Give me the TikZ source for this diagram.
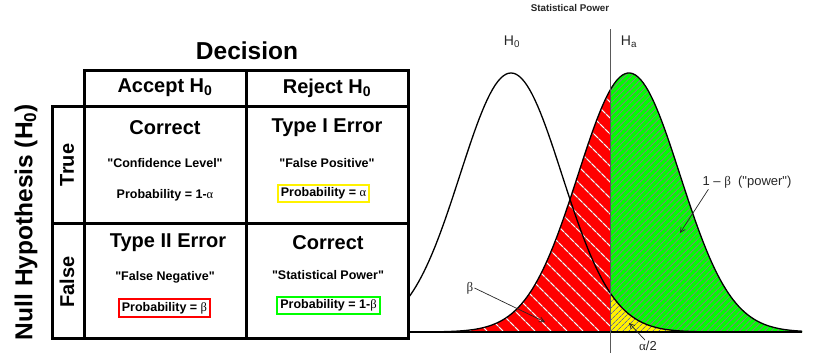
\documentclass[tikz,border=0pt]{standalone}
\usepackage{fontspec}
\setmainfont{Liberation Sans}[Ligatures=TeXOff]
\newfontfamily\grk{Liberation Serif}
\usetikzlibrary{arrows.meta, patterns.meta}

\newcommand{\galpha}{{\grk\mdseries α}}
\newcommand{\gbeta}{{\grk\mdseries β}}

\tikzset{
  tableline/.style={line width=3pt, line join=miter},
  bigtitle/.style={font=\fontsize{24.5}{28}\selectfont\bfseries},
  headtext/.style={font=\fontsize{20}{24}\selectfont\bfseries},
  celltext/.style={font=\fontsize{12.5}{15}\selectfont\bfseries},
  probbox/.style={draw=#1, line width=2pt, inner sep=3pt, font=\fontsize{12.5}{15}\selectfont\bfseries},
  plotlabel/.style={font=\fontsize{13}{15}\selectfont, text=black!85, inner sep=1pt},
  curve/.style={line width=1.3pt, line join=round},
  pointer/.style={-{Straight Barb[length=5pt,width=5pt]}, line width=0.7pt, black!85},
  declare function={
    nH(\x)=332-259*exp(-0.5*pow((\x-511)/51,2));
    nA(\x)=332-259*exp(-0.5*pow((\x-629)/51,2));
  }
}

\begin{document}
\begin{tikzpicture}[x=1pt, y=-1pt]
  \useasboundingbox (0,0) rectangle (817,364);

  % beta region (red, dashed white hatch)
  \fill[red] (408,332) -- plot[domain=408:610.7, samples=80] (\x,{nA(\x)}) -- (610.7,332) -- cycle;
  \begin{scope}
    \clip (408,332) -- plot[domain=408:610.7, samples=80] (\x,{nA(\x)}) -- (610.7,332) -- cycle;
    \foreach \k in {0,...,32}
      \draw[gray!55, line width=0.8pt, postaction={draw=white, dash pattern=on 5pt off 2pt}]
        (120+\k*16,60) -- ++(300,300);
  \end{scope}

  % power region (green) and alpha/2 region (yellow)
  \path[fill=green, postaction={pattern={Lines[angle=45,distance=4.5pt,line width=0.9pt]}, pattern color=gray}]
    (610.7,332) -- plot[domain=610.7:802, samples=80] (\x,{nA(\x)}) -- (802,332) -- cycle;
  \path[fill=yellow, postaction={pattern={Lines[angle=45,distance=4pt,line width=0.7pt]}, pattern color=blue!30!black!60}]
    (610.7,332) -- plot[domain=610.7:802, samples=80] (\x,{nH(\x)}) -- (802,332) -- cycle;

  % the two curves and the axis
  \draw[curve] plot[domain=408:802, samples=150] (\x,{nH(\x)});
  \draw[curve] plot[domain=408:802, samples=150] (\x,{nA(\x)});
  \draw[line width=1.3pt] (408,332) -- (802,332);
  \draw[black!65, line width=0.8pt] (610.7,29) -- (610.7,353);

  % plot labels
  \node[font=\fontsize{9.8}{11}\selectfont\bfseries, text=black!85] (plottitle) at (570,8) {Statistical Power};
  \node[plotlabel, font=\fontsize{14}{16}\selectfont] (hnull) at (512,42) {H\textsubscript{0}};
  \node[plotlabel, font=\fontsize{14}{16}\selectfont] (halt) at (629,42) {H\textsubscript{a}};

  \node[plotlabel] (betalbl) at (470,288) {\gbeta};
  \coordinate (betatip) at (545,322);
  \draw[pointer] (betalbl.east) -- (betatip);

  \node[plotlabel] (powlbl) at (747,182) {1 – \gbeta\ \ ("power")};
  \coordinate (powtip) at (680,233);
  \draw[pointer] ([xshift=7pt]powlbl.south west) -- (powtip);

  \node[plotlabel] (alphalbl) at (648,346) {\galpha/2};
  \coordinate (alphatip) at (629,323);
  \draw[pointer] ([xshift=7pt]alphalbl.north west) -- (alphatip);

  % table frame
  \draw[tableline] (84,70) rectangle (408,338);
  \draw[tableline] (52,106) rectangle (84,338);
  \draw[tableline] (84,106) -- (408,106);
  \draw[tableline] (246,70) -- (246,338);
  \draw[tableline] (52,223) -- (408,223);

  % titles
  \node[bigtitle] (decision) at (247,51) {Decision};
  \node[bigtitle, rotate=90] (nullhyp) at (26,222) {Null Hypothesis (H\textsubscript{0})};
  \node[headtext] (accept) at (165,88) {Accept H\textsubscript{0}};
  \node[headtext] (reject) at (327,88) {Reject H\textsubscript{0}};
  \node[headtext, rotate=90] (truelbl) at (67,165) {True};
  \node[headtext, rotate=90] (falselbl) at (67,282) {False};

  % row "True"
  \node[headtext] (corrone) at (165,128) {Correct};
  \node[headtext] (typeone) at (327,128) {Type I Error};
  \node[celltext] (conflevel) at (165,163) {"Confidence Level"};
  \node[celltext] (falsepos) at (327,163) {"False Positive"};
  \node[celltext] (probone) at (165,195) {Probability = 1-\galpha};
  \node[probbox=yellow] (probtwo) at (323.5,193.5) {Probability = \galpha};

  % row "False"
  \node[headtext] (typetwo) at (168,243) {Type II Error};
  \node[headtext] (corrtwo) at (328,243) {Correct};
  \node[celltext] (falseneg) at (165,277) {"False Negative"};
  \node[celltext] (statpow) at (328,275) {"Statistical Power"};
  \node[probbox=red] (probthree) at (164.5,308) {Probability = \gbeta};
  \node[probbox=green] (probfour) at (328.5,305.5) {Probability = 1-\gbeta};
\end{tikzpicture}
\end{document}
